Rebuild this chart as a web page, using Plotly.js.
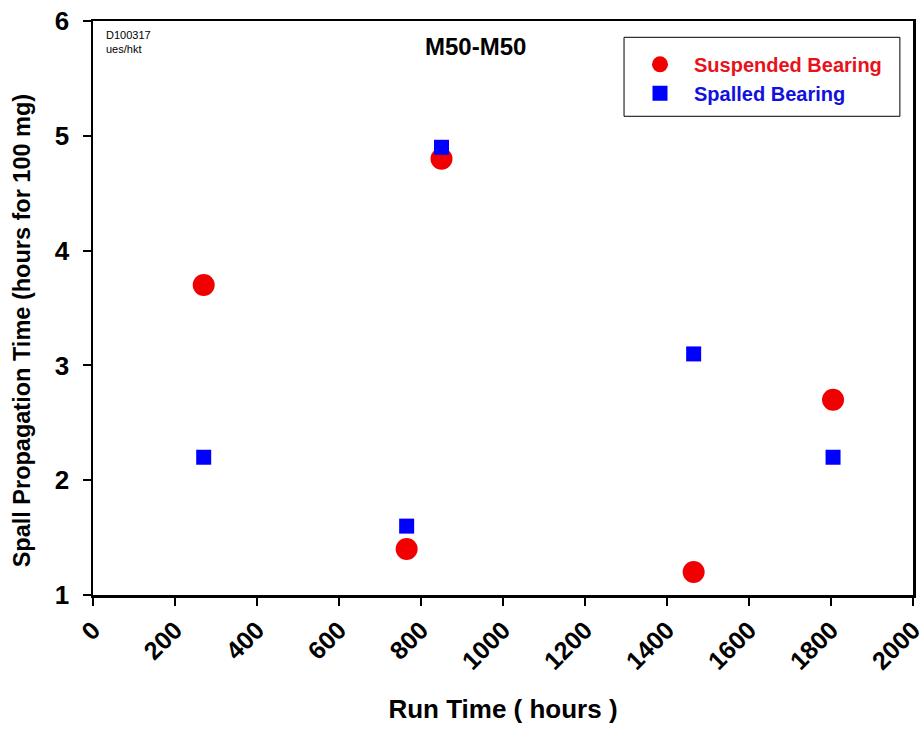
<!DOCTYPE html>
<html>
<head>
<meta charset="utf-8">
<script src="https://cdn.plot.ly/plotly-3.0.1.min.js"></script>
<style>html,body{margin:0;padding:0;background:#fff;}#chart{width:924px;height:734px;}</style>
</head>
<body>
<div id="chart"></div>
<script>
const runTimes = [270, 765, 850, 1465, 1805];
const suspendedTimes = [3.7, 1.4, 4.8, 1.2, 2.7];
const spalledTimes = [2.2, 1.6, 4.9, 3.1, 2.2];
const xTicks = [0, 200, 400, 600, 800, 1000, 1200, 1400, 1600, 1800, 2000];
const yTicks = [1, 2, 3, 4, 5, 6];

const FONT = 'Liberation Sans, Arial, sans-serif';

const traces = [
  {
    x: runTimes, y: suspendedTimes, type: 'scatter', mode: 'markers',
    name: '<b><span style="color:#e8121b">Suspended Bearing</span></b>',
    marker: {symbol: 'circle', size: 22, color: '#f00000', line: {width: 0}}
  },
  {
    x: runTimes, y: spalledTimes, type: 'scatter', mode: 'markers',
    name: '<b><span style="color:#1010e0">Spalled Bearing</span></b>',
    marker: {symbol: 'square', size: 15, color: '#0000ff', line: {width: 0}}
  }
];

const layout = {
  width: 924, height: 734,
  margin: {l: 93, r: 11, t: 21, b: 139},
  paper_bgcolor: '#fff', plot_bgcolor: '#fff',
  font: {family: FONT, color: '#000'},
  showlegend: true,
  legend: {
    x: 0.650, xanchor: 'left', y: 0.9585, yanchor: 'top',
    borderwidth: 0, bgcolor: 'rgba(0,0,0,0)',
    font: {family: FONT, size: 20},
    itemwidth: 58, tracegroupgap: 0
  },
  shapes: [
    {type: 'rect', xref: 'paper', yref: 'paper', x0: 0.6476, x1: 0.984, y0: 0.834, y1: 0.9716,
     line: {color: '#000', width: 1}, fillcolor: 'rgba(0,0,0,0)', layer: 'below'}
  ],
  xaxis: {
    range: [0, 2000], tickvals: xTicks, ticktext: xTicks.map(String),
    tickangle: -45, ticks: 'outside', ticklen: 8, tickwidth: 2, tickcolor: '#000',
    ticklabeloverflow: 'allow', automargin: false,
    showline: true, linewidth: 2.5, linecolor: '#000', mirror: true,
    showgrid: false, zeroline: false,
    tickfont: {family: FONT, size: 25, color: '#000', weight: 'bold'},
    title: {text: '<b>Run Time ( hours )</b>', font: {family: FONT, size: 26}, standoff: 26}
  },
  yaxis: {
    range: [1, 6], tickvals: yTicks, ticktext: yTicks.map(String),
    ticks: 'outside', ticklen: 8, tickwidth: 2, tickcolor: '#000',
    ticklabelstandoff: 8, automargin: false,
    showline: true, linewidth: 2.5, linecolor: '#000', mirror: true,
    showgrid: false, zeroline: false,
    tickfont: {family: FONT, size: 26, color: '#000', weight: 'bold'}
  },
  annotations: [
    {text: '<b>Spall Propagation Time (hours for 100 mg)</b>', textangle: -90,
     xref: 'paper', yref: 'paper', x: -0.0866, y: 0.461, xanchor: 'center', yanchor: 'middle',
     showarrow: false, font: {family: FONT, size: 23.5}},
    {text: '<b>M50-M50</b>', xref: 'paper', yref: 'paper', x: 0.466, y: 0.955,
     xanchor: 'center', yanchor: 'middle', showarrow: false, font: {family: FONT, size: 24}},
    {text: 'D100317<br>ues/hkt', xref: 'paper', yref: 'paper', x: 0.013, y: 0.99,
     xanchor: 'left', yanchor: 'top', align: 'left', showarrow: false, font: {family: FONT, size: 11}}
  ]
};

Plotly.newPlot('chart', traces, layout, {displayModeBar: false, staticPlot: true});
</script>
</body>
</html>
